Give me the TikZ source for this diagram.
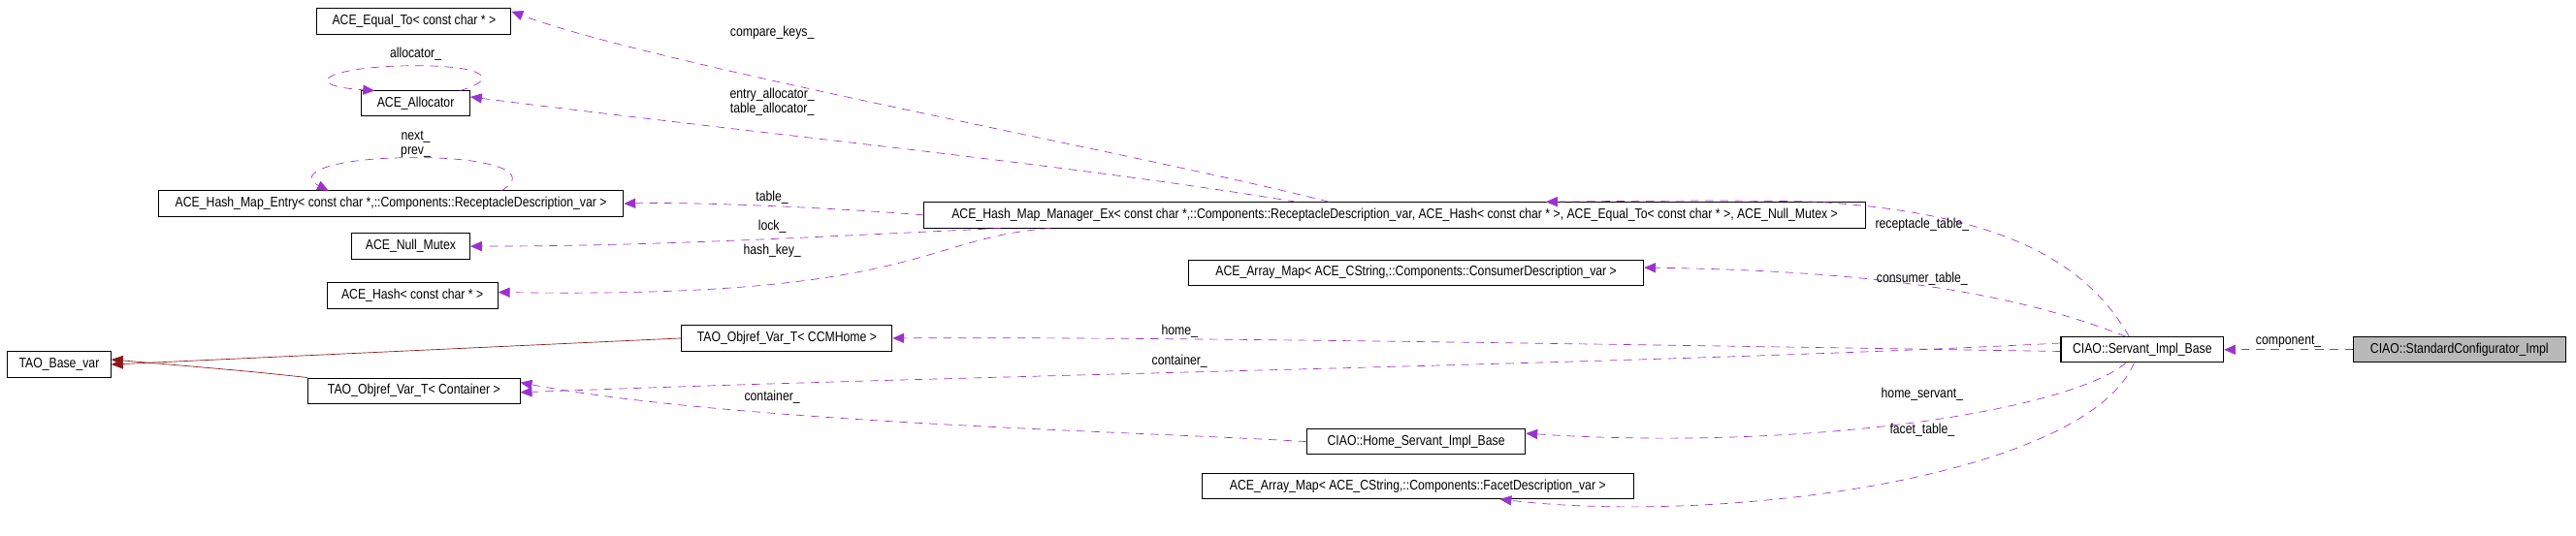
\documentclass[tikz,border=0pt]{standalone}
\usepackage{fontspec}
\setmainfont[FakeStretch=0.85]{Liberation Sans}
\usetikzlibrary{arrows.meta}
\definecolor{edgec}{HTML}{9A32CD}
\definecolor{inhc}{HTML}{8B1A1A}
\begin{document}
\begin{tikzpicture}[x=1pt,y=-1pt,
  box/.style={draw,semithick,fill=white,inner sep=0pt,minimum height=15.5pt,font=\fontsize{8.5}{9}\selectfont},
  lab/.style={font=\fontsize{8.5}{9}\selectfont,align=center,inner sep=1pt},
  use/.style={draw=edgec,dashed,dash pattern=on 5pt off 4pt,-{Triangle[length=7pt,width=6pt,fill=edgec]}},
  inh/.style={draw=inhc,-{Triangle[length=7pt,width=6pt,fill=inhc]}}]
\useasboundingbox (0,0) rectangle (1568,326);
\node[box,minimum width=118pt] (eq) at (252,13) {ACE\_Equal\_To< const char * >};
\node[box,minimum width=66pt] (al) at (253,63) {ACE\_Allocator};
\node[box,minimum width=283pt] (en) at (238,124) {ACE\_Hash\_Map\_Entry< const char *,::Components::ReceptacleDescription\_var >};
\node[box,minimum width=72pt] (nm) at (250,150) {ACE\_Null\_Mutex};
\node[box,minimum width=104pt] (ha) at (251,180) {ACE\_Hash< const char * >};
\node[box,minimum width=128pt] (cc) at (479,206) {TAO\_Objref\_Var\_T< CCMHome >};
\node[box,minimum width=63pt] (bv) at (36,222) {TAO\_Base\_var};
\node[box,minimum width=129pt] (co) at (252,238) {TAO\_Objref\_Var\_T< Container >};
\node[box,minimum width=573pt] (mg) at (849,131) {ACE\_Hash\_Map\_Manager\_Ex< const char *,::Components::ReceptacleDescription\_var, ACE\_Hash< const char * >, ACE\_Equal\_To< const char * >, ACE\_Null\_Mutex >};
\node[box,minimum width=277pt] (cm) at (862,166) {ACE\_Array\_Map< ACE\_CString,::Components::ConsumerDescription\_var >};
\node[box,minimum width=133pt] (hs) at (862,269) {CIAO::Home\_Servant\_Impl\_Base};
\node[box,minimum width=263pt] (fc) at (863,296) {ACE\_Array\_Map< ACE\_CString,::Components::FacetDescription\_var >};
\node[box,minimum width=99pt] (sv) at (1304,213) {CIAO::Servant\_Impl\_Base};
\node[box,minimum width=129pt,fill=gray!55] (sc) at (1497,213) {CIAO::StandardConfigurator\_Impl};
\coordinate (alA) at (280,55.2);
\coordinate (alB) at (228,55.2);
\coordinate (enA) at (305,116.2);
\coordinate (enB) at (200,116.2);
% inheritance
\draw[inh] (cc.west) -- (bv.east);
\draw[inh] (co.north west) .. controls (150,226) .. ([yshift=3pt]bv.east);
% uses
\draw[use] (sc.west) -- node[lab,above]{component\_} (sv.east);
\draw[use] ([xshift=-40pt]mg.north) .. controls (700,95) and (400,40) .. ([yshift=6pt]eq.east);
\path (470,20) node[lab]{compare\_keys\_};
\draw[use] ([xshift=-60pt]mg.north) .. controls (650,100) and (450,80) .. ([yshift=4pt]al.east);
\path (470,62) node[lab]{entry\_allocator\_\\table\_allocator\_};
\draw[use] (mg.west) .. controls (500,126) and (420,123) .. (en.east);
\path (470,120) node[lab]{table\_};
\draw[use] ([xshift=-240pt]mg.south) .. controls (500,144) and (400,150) .. (nm.east);
\path (470,138) node[lab]{lock\_};
\draw[use] ([xshift=-210pt]mg.south) .. controls (560,145) and (560,182) .. ([yshift=2pt]ha.east);
\path (470,153) node[lab]{hash\_key\_};
\draw[use] (enA) .. controls (325,105) and (300,96) .. (253,96) .. controls (200,96) and (180,106) .. (enB);
\draw[use] (alA) .. controls (305,48) and (295,40) .. (253,40) .. controls (200,40) and (180,52) .. (alB);
\path (253,88) node[lab]{next\_\\prev\_};
\path (253,33) node[lab]{allocator\_};
\draw[use] ([xshift=-8pt]sv.north) .. controls (1270,160) and (1220,130) .. ([xshift=-30pt]mg.north east) .. controls (1080,122) and (1020,122) .. ([xshift=92pt]mg.north);
\path (1170,137) node[lab]{receptacle\_table\_};
\draw[use] ([xshift=-10pt]sv.north) .. controls (1230,180) and (1150,165) .. ([yshift=3pt]cm.east);
\path (1170,170) node[lab]{consumer\_table\_};
\draw[use] ([yshift=-1pt]sv.west) .. controls (1000,210) and (700,205) .. (cc.east);
\path (718,202) node[lab]{home\_};
\draw[use] ([yshift=4pt]sv.west) .. controls (1000,222) and (600,228) .. ([yshift=-1pt]co.east);
\path (718,220) node[lab]{container\_};
\draw[use] (hs.west) .. controls (700,263) and (450,258) .. ([yshift=5pt]co.east);
\path (470,242) node[lab]{container\_};
\draw[use] ([xshift=-10pt]sv.south) .. controls (1260,250) and (1100,275) .. ([yshift=5pt]hs.east);
\path (1170,240) node[lab]{home\_servant\_};
\draw[use] ([xshift=-5pt]sv.south) .. controls (1270,290) and (1050,320) .. ([xshift=50pt]fc.south);
\path (1170,262) node[lab]{facet\_table\_};
\end{tikzpicture}
\end{document}
